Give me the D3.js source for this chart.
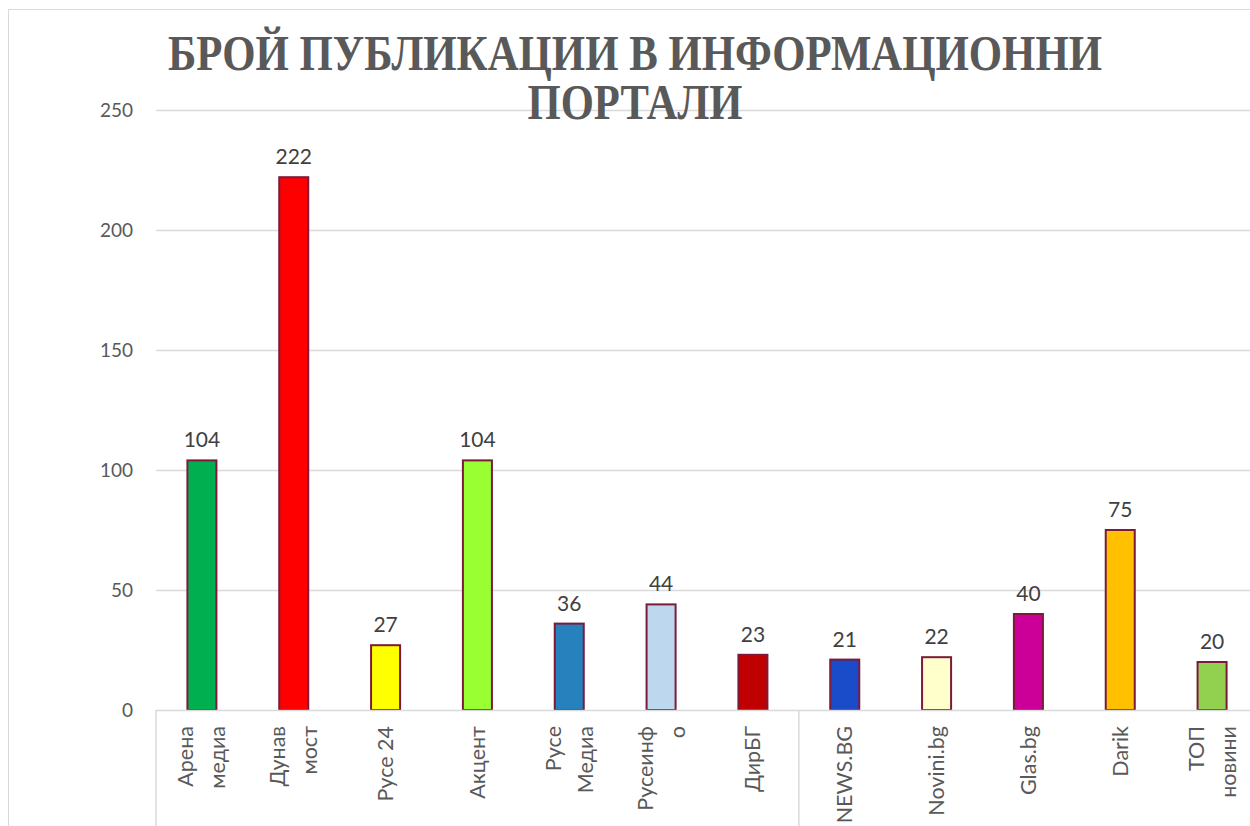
<!DOCTYPE html>
<html>
<head>
<meta charset="utf-8">
<script src="https://cdn.jsdelivr.net/npm/d3@7"></script>
<style>
  body { margin: 0; background: #fff; }
  svg { display: block; }
</style>
</head>
<body>
<div id="chart"></div>
<script>
const categories = ["Арена медиа", "Дунав мост", "Русе 24", "Акцент", "Русе Медиа", "Русеинфо",
  "ДирБГ", "NEWS.BG", "Novini.bg", "Glas.bg", "Darik", "ТОП новини"];
const labelLines = [["Арена", "медиа"], ["Дунав", "мост"], ["Русе 24"], ["Акцент"], ["Русе", "Медиа"],
  ["Русеинф", "о"], ["ДирБГ"], ["NEWS.BG"], ["Novini.bg"], ["Glas.bg"], ["Darik"], ["ТОП", "новини"]];
const values = [104, 222, 27, 104, 36, 44, 23, 21, 22, 40, 75, 20];
const colors = ["#00b050", "#ff0000", "#ffff00", "#99ff33", "#2681bd", "#bdd7ee",
  "#c00000", "#1a4bc9", "#ffffcc", "#cc0099", "#ffc000", "#92d050"];
const yTicks = [0, 50, 100, 150, 200, 250];
const titleLines = ["БРОЙ ПУБЛИКАЦИИ В ИНФОРМАЦИОННИ", "ПОРТАЛИ"];

const width = 1250, height = 826;

const svg = d3.select("#chart").append("svg")
  .attr("width", width)
  .attr("height", height);

// chart frame
svg.append("rect")
  .attr("x", 8.5).attr("y", 9.5)
  .attr("width", 1300).attr("height", 900)
  .attr("fill", "#fff")
  .attr("stroke", "#d9d9d9");

const x = d3.scaleBand()
  .domain(categories)
  .range([156, 1258])
  .paddingInner(0.684)
  .paddingOuter(0.342);

const y = d3.scaleLinear()
  .domain([0, 250])
  .range([710, 110]);

// gridlines
svg.append("g")
  .selectAll("line")
  .data(yTicks.filter(d => d > 0))
  .join("line")
  .attr("x1", 156).attr("x2", 1258)
  .attr("y1", d => y(d) + 0.5).attr("y2", d => y(d) + 0.5)
  .attr("stroke", "#d9d9d9")
  .attr("stroke-width", 1.5);

// y tick labels
svg.append("g")
  .selectAll("text")
  .data(yTicks)
  .join("text")
  .attr("x", 133)
  .attr("y", d => y(d))
  .attr("dy", "0.35em")
  .attr("text-anchor", "end")
  .attr("font-family", "Lato, 'Open Sans', sans-serif")
  .attr("font-size", "19px")
  .attr("fill", "#595959")
  .text(d => d);

// bars
svg.append("g")
  .selectAll("rect")
  .data(values)
  .join("rect")
  .attr("x", (d, i) => x(categories[i]))
  .attr("y", d => y(d))
  .attr("width", x.bandwidth())
  .attr("height", d => y(0) - y(d))
  .attr("fill", (d, i) => colors[i])
  .attr("stroke", "#7b1a3a")
  .attr("stroke-width", 2);

// axis line + category dividers
svg.append("line")
  .attr("x1", 156).attr("x2", 1258)
  .attr("y1", y(0) + 0.5).attr("y2", y(0) + 0.5)
  .attr("stroke", "#d9d9d9")
  .attr("stroke-width", 1.5);

const dividers = [categories[0], categories[7]];
svg.append("g")
  .selectAll("line")
  .data(dividers)
  .join("line")
  .attr("x1", d => x(d) - x.step() * x.paddingOuter())
  .attr("x2", d => x(d) - x.step() * x.paddingOuter())
  .attr("y1", y(0))
  .attr("y2", height)
  .attr("stroke", "#d9d9d9")
  .attr("stroke-width", 1.5);

// data labels
svg.append("g")
  .selectAll("text")
  .data(values)
  .join("text")
  .attr("x", (d, i) => x(categories[i]) + x.bandwidth() / 2)
  .attr("y", d => y(d) - 13)
  .attr("text-anchor", "middle")
  .attr("font-family", "Lato, 'Open Sans', sans-serif")
  .attr("font-size", "21px")
  .attr("fill", "#404040")
  .text(d => d);

// category labels (rotated)
const cat = svg.append("g")
  .selectAll("g")
  .data(categories)
  .join("g")
  .attr("transform", d => `translate(${x(d) + x.bandwidth() / 2},726) rotate(-90)`);

cat.selectAll("text")
  .data((d, i) => labelLines[i].map((t, j, arr) => ({ t, off: (j - (arr.length - 1) / 2) * 32 })))
  .join("text")
  .attr("x", 0)
  .attr("y", d => d.off)
  .attr("dy", "0.35em")
  .attr("text-anchor", "end")
  .attr("font-family", "Lato, 'Open Sans', sans-serif")
  .attr("font-size", "21.5px")
  .attr("fill", "#595959")
  .text(d => d.t);

// title
svg.append("g")
  .selectAll("text")
  .data(titleLines)
  .join("text")
  .attr("x", 635)
  .attr("y", (d, i) => 70 + i * 49)
  .attr("text-anchor", "middle")
  .attr("font-family", "'Liberation Serif', 'Times New Roman', serif")
  .attr("font-weight", "bold")
  .attr("font-size", "50px")
  .attr("fill", "#595959")
  .attr("textLength", (d, i) => i === 0 ? 934 : 215)
  .attr("lengthAdjust", "spacingAndGlyphs")
  .text(d => d);
</script>
</body>
</html>
